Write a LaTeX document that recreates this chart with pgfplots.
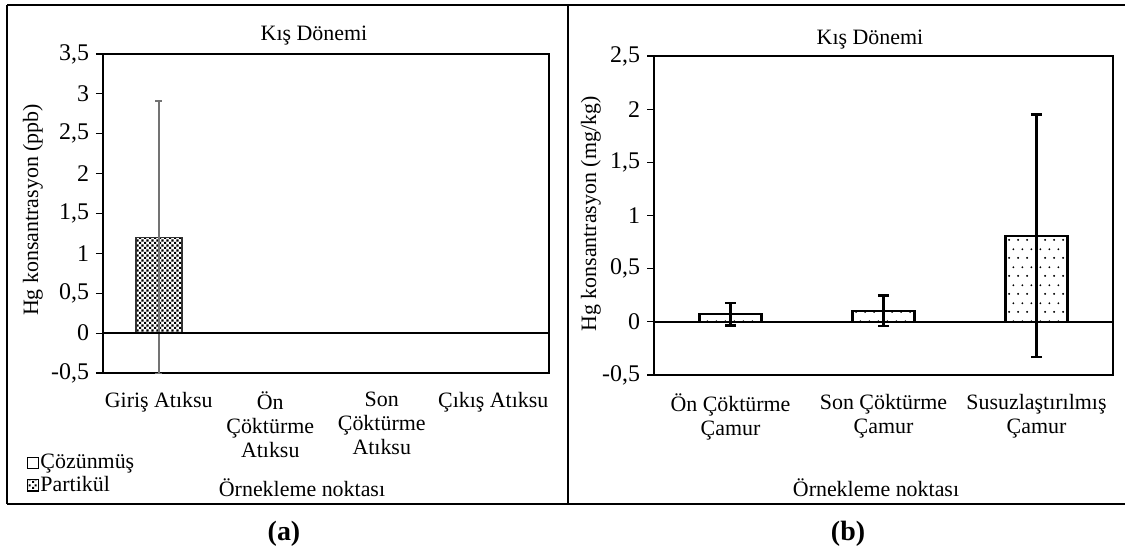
\documentclass[border=0pt]{standalone}
\usepackage{fontspec}
\setmainfont{Liberation Serif}
\usepackage{pgfplots}
\pgfplotsset{compat=1.18}
\usetikzlibrary{patterns}

% sparse staggered dots for the sludge bars
\pgfdeclarepatternformonly{sparse dots}{\pgfqpoint{0pt}{0pt}}{\pgfqpoint{4.4pt}{8.8pt}}{\pgfqpoint{4.4pt}{8.8pt}}{%
  \pgfpathcircle{\pgfqpoint{1.1pt}{1.1pt}}{0.55pt}%
  \pgfpathcircle{\pgfqpoint{3.3pt}{5.5pt}}{0.55pt}%
  \pgfusepath{fill}}
% dense checker for the particulate bar
\pgfdeclarepatternformonly{fine checker}{\pgfqpoint{0pt}{0pt}}{\pgfqpoint{2.7pt}{2.7pt}}{\pgfqpoint{2.7pt}{2.7pt}}{%
  \pgfpathrectangle{\pgfqpoint{0pt}{0pt}}{\pgfqpoint{1.15pt}{1.15pt}}%
  \pgfpathrectangle{\pgfqpoint{1.35pt}{1.35pt}}{\pgfqpoint{1.15pt}{1.15pt}}%
  \pgfusepath{fill}}

\newcommand\txt{\fontsize{11}{12}\selectfont}

\pgfplotsset{
  panel/.style={
    scale only axis,
    ymin=-0.5,
    axis line style={line width=1bp},
    tick align=outside, tick pos=left,
    major tick length=3.5bp,
    ytick style={black, line width=0.6bp},
    x tick style={draw=none},
    xticklabel style={align=center, font=\txt, yshift=-2.5bp},
    yticklabel style={font=\fontsize{12}{13}\selectfont},
    clip=true,
  },
  sq/.style={legend image code/.code={\draw[##1] (0bp,-2.8bp) rectangle (5.6bp,2.8bp);}},
}

\begin{document}
\begin{tikzpicture}
\useasboundingbox (0,0) rectangle (562.5bp,-279.5bp);

% frames around the two panels
\draw[line width=0.8bp] (3.5bp,-2.5bp) -- (562.5bp,-2.5bp);
\draw[line width=0.8bp] (3.5bp,-252bp) -- (562.5bp,-252bp);
\draw[line width=0.8bp] (3.5bp,-2.5bp) -- (3.5bp,-252bp);
\draw[line width=0.8bp] (284bp,-2.5bp) -- (284bp,-252bp);

% (a) wastewater
\begin{axis}[panel,
  at={(51.5bp,-186.5bp)}, anchor=south west,
  width=223bp, height=159.5bp,
  xmin=-0.5, xmax=3.5, ymax=3.5,
  xtick={0,1,2,3},
  xticklabels={{Giriş Atıksu},{Ön\\Çöktürme\\Atıksu},{Son\\Çöktürme\\Atıksu},{Çıkış Atıksu}},
  ytick={-0.5,0,0.5,1,1.5,2,2.5,3,3.5},
  yticklabels={{-0,5},{0},{0,5},{1},{1,5},{2},{2,5},{3},{3,5}},
  legend style={at={(-0.172,-0.25)}, anchor=north west, draw=none, fill=none,
    inner sep=0pt, row sep=1bp,
    font=\txt,
    nodes={inner sep=0.6bp}},
  legend cell align=left,
]
\addlegendimage{sq, draw=black, line width=0.7bp, fill=white}
\addlegendentry{Çözünmüş}
\addlegendimage{sq, draw=black, line width=0.7bp, fill=white, postaction={pattern=fine checker}}
\addlegendentry{Partikül}
\addplot[forget plot, ybar, bar width=0.41, draw=black!80, line width=0.9bp, fill=white,
  postaction={pattern=fine checker},
  error bars/.cd, y dir=both, y explicit,
  error bar style={black!55, line width=1.1bp},
  error mark options={rotate=90, black!55, mark size=1.8bp, line width=1.1bp}]
  coordinates {(0,1.2) +- (0,1.71)};
\addplot[forget plot, black, line width=1bp] coordinates {(-0.5,0) (3.5,0)};
\end{axis}

% (b) sludge
\begin{axis}[panel,
  at={(327bp,-187.5bp)}, anchor=south west,
  width=229.5bp, height=159.5bp,
  xmin=-0.5, xmax=2.5, ymax=2.5,
  xtick={0,1,2},
  xticklabels={{Ön Çöktürme\\Çamur},{Son Çöktürme\\Çamur},{Susuzlaştırılmış\\Çamur}},
  ytick={-0.5,0,0.5,1,1.5,2,2.5},
  yticklabels={{-0,5},{0},{0,5},{1},{1,5},{2},{2,5}},
]
\addplot[ybar, bar width=0.405, draw=black, line width=1.1bp, fill=white,
  postaction={pattern=sparse dots},
  error bars/.cd, y dir=both, y explicit,
  error bar style={black, line width=1.1bp},
  error mark options={rotate=90, black, mark size=2.8bp, line width=1.1bp}]
  coordinates {(0,0.072) +- (0,0.106) (1,0.103) +- (0,0.145) (2,0.81) +- (0,1.14)};
\addplot[black, line width=1bp] coordinates {(-0.5,0) (2.5,0)};
\end{axis}

% titles, axis names and panel tags
\begin{scope}[font=\txt]
\node[anchor=base] at (157bp,-20bp) {Kış Dönemi};
\node[anchor=base] at (435bp,-22bp) {Kış Dönemi};
\node[anchor=base] at (151bp,-248bp) {Örnekleme noktası};
\node[anchor=base] at (438bp,-248bp) {Örnekleme noktası};
\node[rotate=90] at (16.5bp,-105bp) {Hg konsantrasyon (ppb)};
\node[rotate=90] at (295.5bp,-107bp) {Hg konsantrasyon (mg/kg)};
\end{scope}
\node[anchor=base, font=\fontsize{14}{16}\selectfont\bfseries] at (142bp,-270bp) {(a)};
\node[anchor=base, font=\fontsize{14}{16}\selectfont\bfseries] at (424bp,-270bp) {(b)};
\end{tikzpicture}
\end{document}
